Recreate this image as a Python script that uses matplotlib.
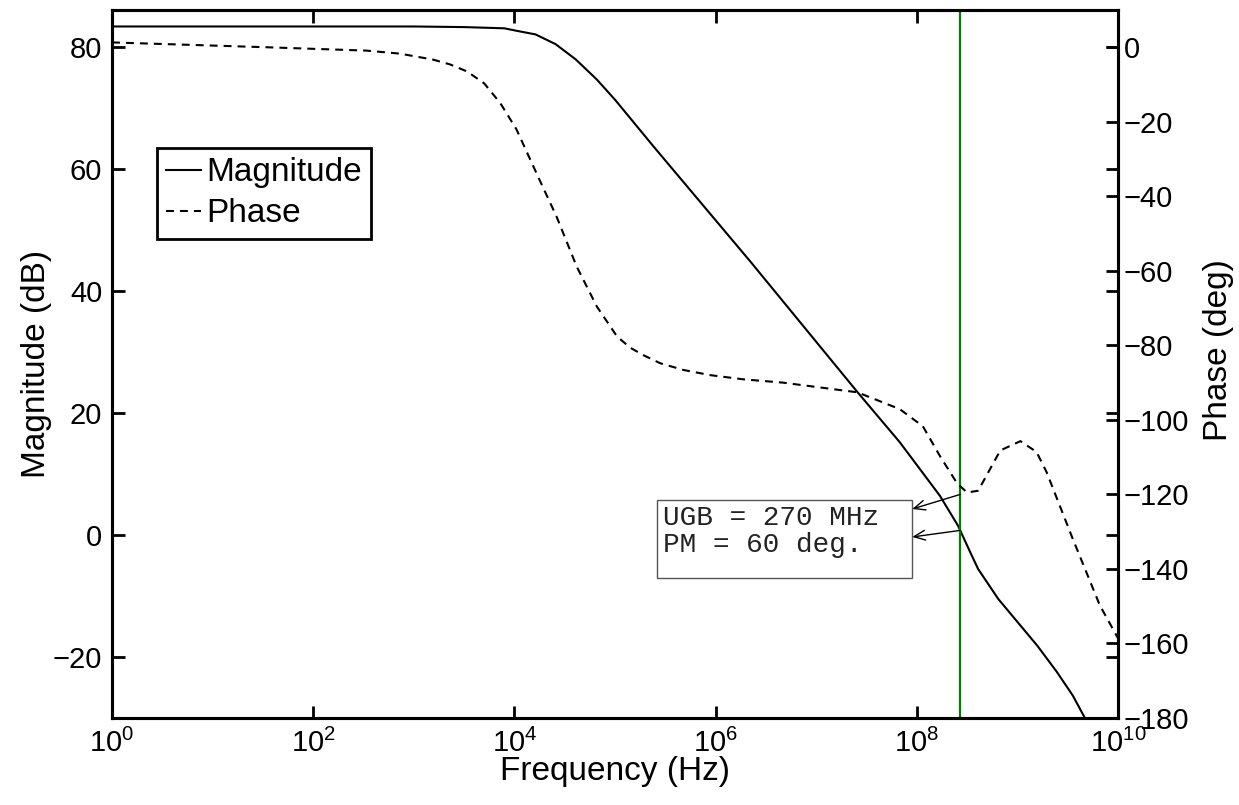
import numpy as np
import matplotlib
matplotlib.use("Agg")
import matplotlib.pyplot as plt
from matplotlib.patches import Rectangle
from matplotlib.ticker import NullLocator

plt.rcParams['font.family'] = ['Liberation Sans', 'DejaVu Sans']
plt.rcParams['mathtext.fontset'] = 'custom'
plt.rcParams['mathtext.rm'] = 'Liberation Sans'
plt.rcParams['mathtext.it'] = 'Liberation Sans:italic'
plt.rcParams['mathtext.bf'] = 'Liberation Sans:bold'

# open-loop response, frequency as log10(Hz)
mag_logf = [0.0, 3.0, 3.5, 3.9, 4.02, 4.21, 4.41, 4.61, 4.82, 5.0, 5.38, 6.35,
            7.41, 7.83, 8.23, 8.41, 8.53, 8.61, 8.81, 9.20, 9.39, 9.55, 9.72]
mag_db = [83.3, 83.3, 83.2, 83.0, 82.6, 82.0, 80.4, 77.9, 74.6, 71.3, 63.7, 44.7,
          23.4, 15.2, 6.4, 1.5, -2.8, -5.6, -10.5, -18.2, -22.4, -26.3, -31.5]

phase_logf = [0.0, 1.54, 2.53, 2.86, 3.19, 3.36, 3.53, 3.70, 3.86, 4.02, 4.25, 4.42,
              4.62, 4.82, 5.02, 5.15, 5.28, 5.45, 5.68, 5.95, 6.27, 6.67, 7.41, 7.83,
              8.06, 8.23, 8.40, 8.50, 8.61, 8.83, 9.03, 9.19, 9.29, 9.55, 9.82, 10.0]
phase_deg = [1.3, 0.0, -0.9, -1.7, -3.3, -4.6, -6.5, -9.7, -15.0, -22.0, -35.6, -45.5,
             -58.9, -69.6, -77.6, -80.6, -82.6, -84.8, -86.6, -88.0, -89.1, -90.0, -92.6, -97.1,
             -101.7, -109.7, -117.0, -119.5, -119.0, -108.2, -105.7, -108.6, -114.0, -131.9,
             -149.8, -158.6]

ugb_freq = 270e6   # unity gain bandwidth, Hz
pm = 60            # phase margin, deg

mag_f = 10 ** np.array(mag_logf)
phase_f = 10 ** np.array(phase_logf)

fig = plt.figure(figsize=(12.39, 8.05), dpi=100)
ax = fig.add_axes([112 / 1239, 87 / 805, 1006 / 1239, 708 / 805])

l1, = ax.semilogx(mag_f, mag_db, color='k', lw=1.5, label='Magnitude')
ax.axvline(ugb_freq, color='#008000', lw=1.6)

ax2 = ax.twinx()
l2, = ax2.semilogx(phase_f, phase_deg, color='k', lw=1.5,
                   linestyle=(0, (3.8, 2.9)), label='Phase')

ax.set_xlim(1, 1e10)
ax.set_ylim(-30, 86)
ax2.set_ylim(-180, 10)

ax.set_xticks([10.0 ** k for k in range(0, 11, 2)])
ax.xaxis.set_minor_locator(NullLocator())
ax.set_yticks(range(-20, 81, 20))
ax2.set_yticks(range(-180, 1, 20))
ax2.yaxis.set_minor_locator(NullLocator())

ax.tick_params(axis='both', which='major', direction='in', length=9, width=2,
               labelsize=21, top=True, right=True, left=True, bottom=True)
ax.tick_params(axis='y', pad=7)
ax.tick_params(axis='x', pad=8)
ax2.tick_params(axis='y', direction='in', length=9, width=2, labelsize=21, pad=4)

for a in (ax, ax2):
    for s in a.spines.values():
        s.set_linewidth(2.2)

ax.set_xlabel('Frequency (Hz)', fontsize=24, labelpad=-2)
ax.set_ylabel('Magnitude (dB)', fontsize=24, labelpad=1)
ax2.set_ylabel('Phase (deg)', fontsize=24)
ax2.yaxis.set_label_coords(1.0845, 0.52)

# UGB / PM annotation box
ax2.add_patch(Rectangle((0.5418, 0.1977), 0.2535, 0.1102, transform=ax.transAxes,
                        facecolor='white', edgecolor='#555555', lw=1.0, zorder=5))
ax2.text(0.5477, 0.2726, f'UGB = {ugb_freq / 1e6:.0f} MHz', transform=ax.transAxes,
         family='Liberation Mono', fontsize=20, va='baseline', color='#222222', zorder=6)
ax2.text(0.5477, 0.2345, f'PM = {pm:.0f} deg.', transform=ax.transAxes,
         family='Liberation Mono', fontsize=20, va='baseline', color='#222222', zorder=6)

mag_at_ugb = np.interp(np.log10(ugb_freq), mag_logf, mag_db)
arrow = dict(arrowstyle='->, head_length=0.8, head_width=0.35', color='k', lw=1.0,
             shrinkA=0, shrinkB=0)
ax2.annotate('', xy=(0.7955, 0.2952), xycoords='axes fraction',
             xytext=(ugb_freq, -180 + pm), textcoords='data', arrowprops=arrow, zorder=7)
ax.annotate('', xy=(0.7955, 0.2557), xycoords=ax.transAxes,
            xytext=(ugb_freq, mag_at_ugb), textcoords='data', arrowprops=arrow)

leg = ax2.legend([l1, l2], ['Magnitude', 'Phase'], loc='upper left',
                 bbox_to_anchor=(157 / 1239, 1 - 148 / 805), bbox_transform=fig.transFigure,
                 borderaxespad=0, fontsize=24, handlelength=1.05, handletextpad=0.15,
                 labelspacing=0.3, borderpad=0.28, fancybox=False, framealpha=1)
leg.get_frame().set_edgecolor('k')
leg.get_frame().set_linewidth(2)

fig.savefig('out.png', dpi=100)
